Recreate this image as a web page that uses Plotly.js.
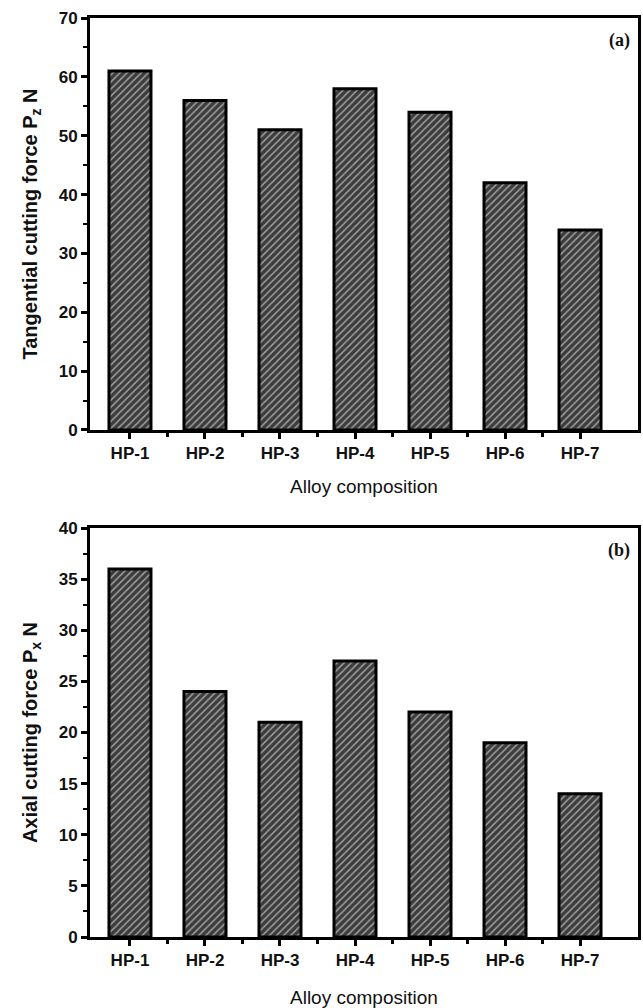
<!DOCTYPE html>
<html>
<head>
<meta charset="utf-8">
<script src="https://cdn.plot.ly/plotly-3.0.1.min.js"></script>
<style>html,body{margin:0;padding:0;background:#fff;}#chart{width:643px;height:1008px;}</style>
</head>
<body>
<div id="chart"></div>
<script>
const categories = ["HP-1","HP-2","HP-3","HP-4","HP-5","HP-6","HP-7"];
const tangentialForce = [61, 56, 51, 58, 54, 42, 34];
const axialForce = [36, 24, 21, 27, 22, 19, 14];

const xIdx = categories.map((_, i) => i);
const barMarker = {
  color: '#3c3c3c',
  line: {color: '#000', width: 3},
  pattern: {shape: '/', fgcolor: '#ffffff', bgcolor: '#3c3c3c', size: 5, solidity: 0.3, fillmode: 'overlay'}
};

const traces = [
  {type: 'bar', x: xIdx, y: tangentialForce, width: 0.56, marker: barMarker, xaxis: 'x', yaxis: 'y', hoverinfo: 'skip'},
  {type: 'bar', x: xIdx, y: axialForce, width: 0.56, marker: barMarker, xaxis: 'x2', yaxis: 'y2', hoverinfo: 'skip'}
];

const tickFont = {family: 'Liberation Sans, Arial, sans-serif', size: 17, color: '#111', weight: 'bold'};
const titleFont = {family: 'Liberation Sans, Arial, sans-serif', size: 20, color: '#111', weight: 'bold'};

function xAxis(anchor) {
  return {
    anchor: anchor, domain: [0, 1], range: [-0.533, 6.773],
    tickmode: 'array', tickvals: xIdx, ticktext: categories,
    ticks: 'outside', ticklen: 6, tickwidth: 3, tickcolor: '#000',
    minor: {tickmode: 'array', tickvals: xIdx.slice(0, -1).map(v => v + 0.5), ticks: 'outside', ticklen: 4, tickwidth: 3, tickcolor: '#000'},
    showline: true, linewidth: 3, linecolor: '#000', mirror: true,
    showgrid: false, zeroline: false, tickfont: tickFont, fixedrange: true
  };
}
function yAxis(anchor, domain, max, dtick, title) {
  return {
    anchor: anchor, domain: domain, range: [0, max],
    tickmode: 'linear', tick0: 0, dtick: dtick,
    ticks: 'outside', ticklen: 6, tickwidth: 3, tickcolor: '#000',
    minor: {dtick: dtick / 2, ticks: 'outside', ticklen: 4, tickwidth: 2, tickcolor: '#000'},
    showline: true, linewidth: 3, linecolor: '#000', mirror: true,
    showgrid: false, zeroline: false, tickfont: tickFont,
    title: {text: title, font: titleFont, standoff: 16}, fixedrange: true
  };
}

const layout = {
  width: 643, height: 1008,
  margin: {l: 90, r: 5, t: 18, b: 71},
  paper_bgcolor: '#fff', plot_bgcolor: '#fff',
  showlegend: false, bargap: 0,
  xaxis: xAxis('y'),
  yaxis: yAxis('x', [0.5517, 1], 70, 10, 'Tangential cutting force P<sub>z</sub> N'),
  xaxis2: xAxis('y2'),
  yaxis2: yAxis('x2', [0, 0.445], 40, 5, 'Axial cutting force P<sub>x</sub> N'),
  annotations: [
    {text: 'Alloy composition', xref: 'paper', yref: 'paper', x: 0.5, y: 0.5517, yshift: -57, xanchor: 'center', yanchor: 'middle', showarrow: false,
     font: {family: 'Liberation Sans, Arial, sans-serif', size: 19, color: '#111'}},
    {text: 'Alloy composition', xref: 'paper', yref: 'paper', x: 0.5, y: 0, yshift: -60, xanchor: 'center', yanchor: 'middle', showarrow: false,
     font: {family: 'Liberation Sans, Arial, sans-serif', size: 19, color: '#111'}},
    {text: '(a)', xref: 'paper', yref: 'paper', x: 1, y: 1, xshift: -6, yshift: -10, xanchor: 'right', yanchor: 'top', showarrow: false,
     font: {family: 'Liberation Serif, Times New Roman, serif', size: 18, color: '#111', weight: 'bold'}},
    {text: '(b)', xref: 'paper', yref: 'paper', x: 1, y: 0.445, xshift: -6, yshift: -10, xanchor: 'right', yanchor: 'top', showarrow: false,
     font: {family: 'Liberation Serif, Times New Roman, serif', size: 18, color: '#111', weight: 'bold'}}
  ]
};

Plotly.newPlot('chart', traces, layout, {staticPlot: true, displayModeBar: false});
</script>
</body>
</html>
